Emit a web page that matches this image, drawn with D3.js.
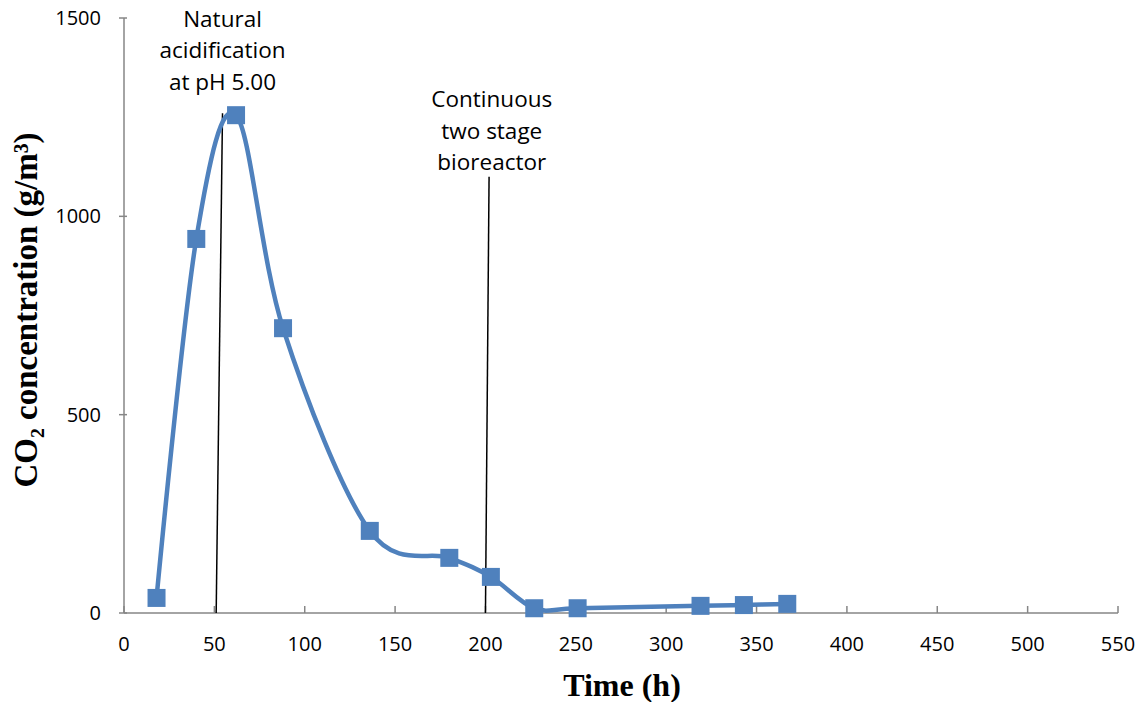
<!DOCTYPE html>
<html><head><meta charset="utf-8">
<script src="https://cdn.jsdelivr.net/npm/d3@7"></script>
<style>body{margin:0;background:#fff}</style>
</head><body>
<svg id="c" width="1147" height="702"></svg>
<script>
const timeH = [18, 40, 62, 88, 136, 180, 203, 227, 251, 319, 343, 367];
const co2 = [38, 943, 1255, 718, 207, 139, 91, 12, 12, 18, 20, 23];
const xTicks = [0,50,100,150,200,250,300,350,400,450,500,550];
const yTicks = [0,500,1000,1500];
const annotations = [
  {lines:["Natural","acidification","at pH 5.00"], textX:54.5, xTop:54.5, yTop:1260, xBot:51, textY:[27,58,90]},
  {lines:["Continuous","two stage","bioreactor"], textX:203.5, xTop:202, yTop:1100, xBot:200, textY:[107,139,170]}
];

const svg = d3.select("#c");
const x = d3.scaleLinear().domain([0,550]).range([124,1118]);
const y = d3.scaleLinear().domain([0,1500]).range([613,18]);
const axisColor = "#868686";
const sans = "'Open Sans', 'Noto Sans', sans-serif";
const serif = "'Liberation Serif','Times New Roman',serif";

// axes lines
svg.append("line").attr("x1",x(0)).attr("x2",x(550)).attr("y1",y(0)).attr("y2",y(0)).attr("stroke",axisColor).attr("stroke-width",1.5);
svg.append("line").attr("x1",x(0)).attr("x2",x(0)).attr("y1",y(0)).attr("y2",y(1500)).attr("stroke",axisColor).attr("stroke-width",1.5);

// x ticks
xTicks.forEach(t=>{
  svg.append("line").attr("x1",x(t)).attr("x2",x(t)).attr("y1",y(0)).attr("y2",y(0)-7).attr("stroke",axisColor).attr("stroke-width",1.5);
  svg.append("text").attr("x",x(t)).attr("y",651).attr("text-anchor","middle")
    .attr("font-family",sans).attr("font-size",20).attr("fill","#000").text(t);
});
// y ticks
yTicks.forEach(t=>{
  svg.append("line").attr("x1",x(0)-5).attr("x2",x(0)+3).attr("y1",y(t)).attr("y2",y(t)).attr("stroke",axisColor).attr("stroke-width",1.5);
  svg.append("text").attr("x",101).attr("y",y(t)+7).attr("text-anchor","end")
    .attr("font-family",sans).attr("font-size",20).attr("fill","#000").text(t);
});

// axis titles
svg.append("text").attr("x",622).attr("y",696).attr("text-anchor","middle")
  .attr("font-family",serif).attr("font-weight","bold").attr("font-size",32).text("Time (h)");
svg.append("text").attr("transform","translate(37,310) rotate(-90)").attr("text-anchor","middle")
  .attr("font-family",serif).attr("font-weight","bold").attr("font-size",33)
  .text("CO\u2082 concentration (g/m\u00B3)");

// annotation lines & text
annotations.forEach(a=>{
  svg.append("line").attr("x1",x(a.xTop)).attr("y1",y(a.yTop)).attr("x2",x(a.xBot)).attr("y2",y(0))
    .attr("stroke","#000").attr("stroke-width",1.5);
  a.lines.forEach((l,i)=>{
    svg.append("text").attr("x",x(a.textX)).attr("y",a.textY[i]).attr("text-anchor","middle")
      .attr("font-family",sans).attr("font-size",22.5).attr("fill","#000").text(l);
  });
});

// series
const data = timeH.map((t,i)=>({t, v:co2[i]}));
const color = "#4F81BD";
const line = d3.line().x(d=>x(d.t)).y(d=>y(d.v)).curve(d3.curveCardinal.tension(0));
svg.append("path").datum(data).attr("d",line).attr("fill","none").attr("stroke",color).attr("stroke-width",4.5);
svg.selectAll("rect.m").data(data).enter().append("rect").attr("class","m")
  .attr("x",d=>x(d.t)-9).attr("y",d=>y(d.v)-9).attr("width",18).attr("height",18).attr("fill",color);
</script>
</body></html>
